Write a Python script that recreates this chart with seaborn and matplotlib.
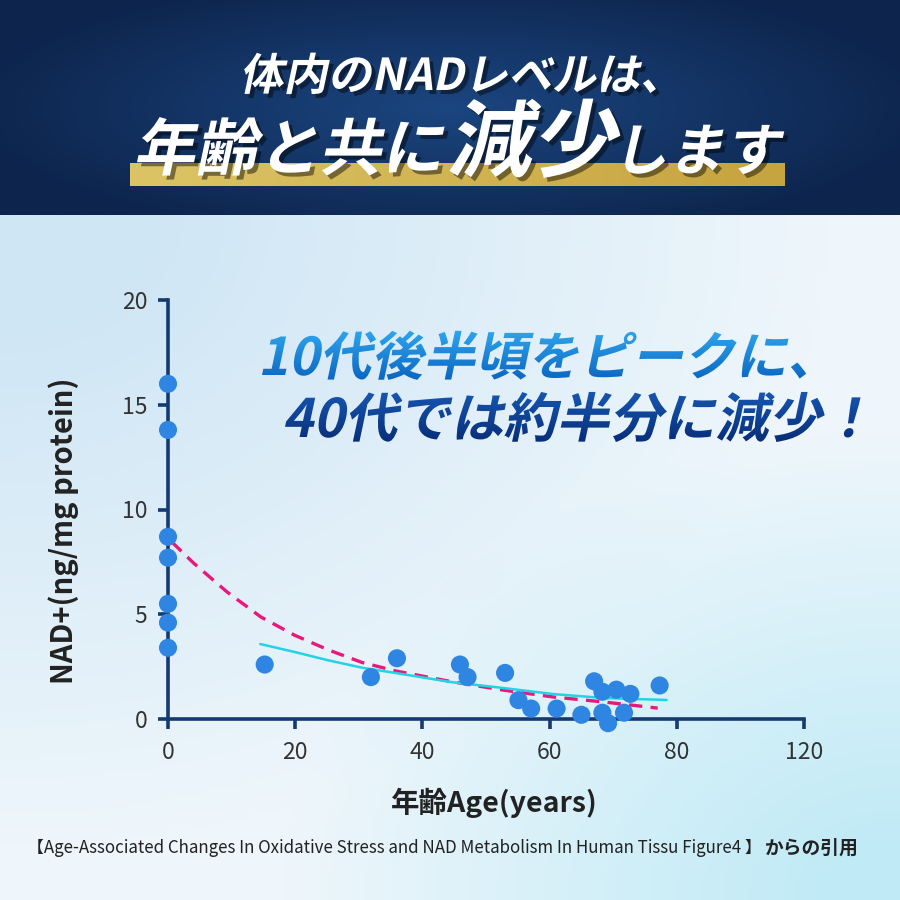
"""NAD+ level vs age chart (Japanese infographic)."""

import numpy as np
import matplotlib
matplotlib.use("Agg")
import matplotlib.pyplot as plt
import seaborn as sns
import pandas as pd
from matplotlib.textpath import TextPath
from matplotlib.font_manager import FontProperties
from matplotlib.transforms import Affine2D
from matplotlib.patches import PathPatch

# ---- data ----
ages = [0, 0, 0, 0, 0, 0, 0, 15.2, 31.9, 36.0, 45.9, 47.1, 53.0, 55.1, 57.1,
        61.1, 65.0, 67.0, 68.3, 70.5, 72.7, 68.3, 69.2, 71.7, 77.3]
nad = [16.0, 13.8, 8.7, 7.7, 5.5, 4.6, 3.4, 2.6, 2.0, 2.9, 2.6, 2.0, 2.2, 0.9, 0.5,
       0.5, 0.2, 1.8, 1.3, 1.4, 1.2, 0.3, -0.2, 0.3, 1.6]

fit_solid_x = [14.5, 19.9, 25.2, 30.5, 35.7, 44.8, 52.7, 60.6, 68.6, 78.4]
fit_solid_y = [3.58, 3.2, 2.8, 2.45, 2.2, 1.75, 1.48, 1.19, 1.0, 0.91]
fit_dash_x = [0.6, 4.0, 9.3, 14.6, 19.9, 25.2, 30.5, 35.7, 44.8, 52.7, 60.6, 68.6, 77.0]
fit_dash_y = [8.45, 7.45, 6.06, 4.87, 4.0, 3.3, 2.7, 2.3, 1.77, 1.38, 1.05, 0.81, 0.52]

x_ticks = [0, 20, 40, 60, 80, 100]
x_tick_labels = ["0", "20", "40", "60", "80", "120"]
y_ticks = [0, 5, 10, 15, 20]

title_1 = "体内のNADレベルは、"
title_2 = ["年齢と共に", "減少", "します"]
note_1 = "10代後半頃をピークに、"
note_2 = "40代では約半分に減少！"
x_label = "年齢Age(years)"
y_label = "NAD+(ng/mg protein)"
caption = "【Age-Associated Changes In Oxidative Stress and NAD Metabolism In Human Tissu Figure4 】"
caption_tail = "からの引用"

sns.set_theme(style="ticks")
plt.rcParams['font.family'] = ['Noto Sans CJK JP', 'DejaVu Sans']

NAVY = "#143a70"


def gradient(c_top, c_bottom, n=256):
    a = np.array(matplotlib.colors.to_rgb(c_top))
    b = np.array(matplotlib.colors.to_rgb(c_bottom))
    t = np.linspace(0, 1, n)[:, None]
    return (a * (1 - t) + b * t)[:, None, :]


def skew_text(ax, s, x, base, size, color=None, anchor="left", skew=12,
              grad=None, shadow=False):
    """Draw bold pseudo-italic text (in figure pixel coords, y up)."""
    prop = FontProperties(family="Noto Sans CJK JP", weight="bold")
    path = TextPath((0, 0), s, size=size, prop=prop)
    path = Affine2D().skew_deg(skew, 0).transform_path(path)
    ext = path.get_extents()
    dx = x - ext.x0 if anchor == "left" else x - (ext.x0 + ext.x1) / 2
    path = Affine2D().translate(dx, base).transform_path(path)
    if shadow:
        sh = Affine2D().translate(4, -4).transform_path(path)
        ax.add_patch(PathPatch(sh, fc="#000000", ec="none", alpha=0.45, zorder=5))
    if grad is not None:
        ext = path.get_extents()
        patch = PathPatch(path, fc="none", ec="none", zorder=6)
        ax.add_patch(patch)
        im = ax.imshow(gradient(*grad), extent=[ext.x0, ext.x1, ext.y0, ext.y1],
                       aspect="auto", zorder=6, interpolation="bilinear")
        im.set_clip_path(patch)
    else:
        ax.add_patch(PathPatch(path, fc=color, ec="none", zorder=6))
    return path.get_extents()


fig = plt.figure(figsize=(9, 9), dpi=100)

# ---- background ----
bg = fig.add_axes([0, 0, 1, 1])
bg.set_xlim(0, 900)
bg.set_ylim(0, 900)
bg.axis("off")

yy, xx = np.mgrid[0:1:200j, 0:1:200j]
base = np.array(matplotlib.colors.to_rgb("#eef6fb"))
blue = np.array(matplotlib.colors.to_rgb("#cfe6f5"))
cyan = np.array(matplotlib.colors.to_rgb("#bfeaf6"))
w_tl = np.clip(1.2 - np.hypot(xx, yy) * 1.3, 0, 1)[..., None]
w_br = np.clip(1.1 - np.hypot(1 - xx, 1 - yy) * 1.6, 0, 1)[..., None]
lower = base * (1 - w_tl - w_br).clip(0, 1) + blue * w_tl + cyan * w_br
lower = lower / np.maximum(1, (1 - w_tl - w_br).clip(0, 1) + w_tl + w_br)
bg.imshow(lower, extent=[0, 900, 0, 685], aspect="auto", zorder=0)

hx = np.linspace(-1, 1, 300)[None, :]
hy = np.linspace(-1, 1, 100)[:, None]
r = np.clip(np.sqrt((hx / 1.1) ** 2 + (hy / 1.3) ** 2), 0, 1)[..., None]
c_in = np.array(matplotlib.colors.to_rgb("#1b4680"))
c_out = np.array(matplotlib.colors.to_rgb("#0d244c"))
header = c_in * (1 - r) + c_out * r
bg.imshow(header, extent=[0, 900, 685, 900], aspect="auto", zorder=1)

# gold bar
gx = np.linspace(0, 1, 200)[None, :, None]
gold = (np.array(matplotlib.colors.to_rgb("#dcc466")) * (1 - gx)
        + np.array(matplotlib.colors.to_rgb("#c6a43f")) * gx)
bg.imshow(gold, extent=[130, 785, 714, 737], aspect="auto", zorder=2)

# ---- headline ----
skew_text(bg, title_1, 450, 810, 44, color="white", anchor="center", shadow=True)
x0 = 137
for piece, sz in zip(title_2, [62, 84, 56]):
    e = skew_text(bg, piece, x0, 730, sz, color="white", shadow=True)
    x0 = e.x1 + 5

# ---- callout ----
skew_text(bg, note_1, 262, 525, 52, grad=("#2fa6ee", "#0b66c2"))
skew_text(bg, note_2, 285, 463, 53, grad=("#1657b3", "#082e78"))

# ---- plot ----
ax = fig.add_axes([168 / 900, 181 / 900, 636 / 900, 419 / 900])
ax.patch.set_alpha(0)

df = pd.DataFrame({"age": ages, "nad": nad})
sns.lineplot(x=fit_dash_x, y=fit_dash_y, ax=ax, color="#e8197a", lw=2.4,
             linestyle=(0, (4, 2.5)), zorder=3)
sns.lineplot(x=fit_solid_x, y=fit_solid_y, ax=ax, color="#22d3e6", lw=1.8, zorder=3)
sns.scatterplot(data=df, x="age", y="nad", ax=ax, s=170, color="#2f86e2",
                edgecolor="none", zorder=4, clip_on=False)

ax.set_xlim(0, 100)
ax.set_ylim(0, 20)
ax.set_xticks(x_ticks)
ax.set_xticklabels(x_tick_labels)
ax.set_yticks(y_ticks)
for side in ["top", "right"]:
    ax.spines[side].set_visible(False)
for side in ["left", "bottom"]:
    ax.spines[side].set_color(NAVY)
    ax.spines[side].set_linewidth(2.6)
ax.tick_params(axis="both", colors=NAVY, length=7, width=2.6, labelsize=16.5,
               labelcolor="#333333")
ax.tick_params(axis="y", pad=8)
ax.tick_params(axis="x", pad=9)
ax.set_xlabel(x_label, fontsize=20.5, fontweight="bold", color="#222222")
ax.set_ylabel(y_label, fontsize=21, fontweight="bold", color="#222222")
ax.xaxis.set_label_coords(0.513, -0.165)
ax.yaxis.set_label_coords(-0.14, 0.45)

fig.text(762 / 900, 52 / 900, caption, fontsize=12.2, color="#222222",
         ha="right", va="center")
fig.text(765 / 900, 52 / 900, caption_tail, fontsize=13.5, color="#222222",
         ha="left", va="center", fontweight="bold")

fig.savefig("out.png", dpi=100)
